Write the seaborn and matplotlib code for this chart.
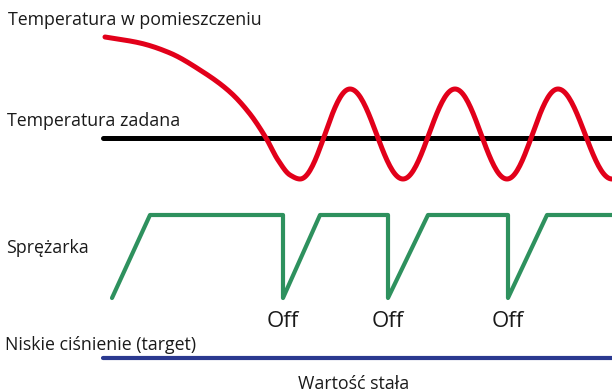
import numpy as np
import pandas as pd
import matplotlib
matplotlib.use("Agg")
import matplotlib.pyplot as plt
import seaborn as sns

# Canvas in pixel units (x to the right, y downward)
W, H = 612, 392

# Room temperature: initial cooling-down stretch, then oscillation extrema
room_fall_x = [105, 140, 170, 200, 230, 250, 266, 278, 290, 300]
room_fall_y = [37, 43, 53, 70, 92, 114, 138, 160, 175, 179]
room_osc_x = [300, 350, 403, 455, 507, 558, 612]
room_osc_y = [179, 89, 179, 89, 179, 89, 179]

# Set temperature (flat line)
setpoint_x = [103, 612]
setpoint_y = [138, 138]

# Compressor on/off sawtooth
comp_x = [112, 150, 283, 283, 320, 388, 388, 428, 508, 508, 547, 612]
comp_y = [298, 215, 215, 298, 215, 215, 298, 215, 215, 298, 215, 215]

# "Off" markers under each compressor drop
off_x = [283, 388, 508]
off_y = [327, 327, 327]
off_text = "Off"

# Low pressure target (constant)
pressure_x = [103, 612]
pressure_y = [358, 358]

# Row labels: (text, x, baseline y)
labels = ["Temperatura w pomieszczeniu", "Temperatura zadana", "Sprężarka",
          "Niskie ciśnienie (target)"]
labels_x = [8, 7, 6, 5]
labels_y = [25, 126, 253, 350]
footer = "Wartość stała"
footer_xy = (354, 389)

RED = "#e2001a"
GREEN = "#2e915e"
BLUE = "#2b3990"
TEXT = "#1a1a1a"


def monotone_curve(xs, ys, end_slope=0.0, n=20):
    """Monotone cubic Hermite path through the points, flat at the end."""
    x = np.asarray(xs, float)
    y = np.asarray(ys, float)
    h = np.diff(x)
    d = np.diff(y) / h
    m = np.zeros_like(x)
    m[0] = d[0]
    for i in range(1, len(x) - 1):
        if d[i - 1] * d[i] > 0:
            w1 = 2 * h[i] + h[i - 1]
            w2 = h[i] + 2 * h[i - 1]
            m[i] = (w1 + w2) / (w1 / d[i - 1] + w2 / d[i])
    m[-1] = end_slope
    px, py = [], []
    t = np.linspace(0, 1, n, endpoint=False)
    for i in range(len(x) - 1):
        h00 = 2 * t**3 - 3 * t**2 + 1
        h10 = t**3 - 2 * t**2 + t
        h01 = -2 * t**3 + 3 * t**2
        h11 = t**3 - t**2
        px.extend(x[i] + h[i] * t)
        py.extend(h00 * y[i] + h10 * h[i] * m[i] + h01 * y[i + 1] + h11 * h[i] * m[i + 1])
    px.append(x[-1])
    py.append(y[-1])
    return np.array(px), np.array(py)


def cosine_between(xs, ys, n=40):
    """Sinusoidal swing between consecutive extrema."""
    px, py = [], []
    t = np.linspace(0, 1, n, endpoint=False)
    for (x0, y0), (x1, y1) in zip(zip(xs[:-1], ys[:-1]), zip(xs[1:], ys[1:])):
        px.extend(x0 + (x1 - x0) * t)
        py.extend(y0 + (y1 - y0) * (1 - np.cos(np.pi * t)) / 2)
    px.append(xs[-1])
    py.append(ys[-1])
    return np.array(px), np.array(py)


fall_x, fall_y = monotone_curve(room_fall_x, room_fall_y)
osc_x, osc_y = cosine_between(room_osc_x, room_osc_y)
room = pd.DataFrame({
    "x": np.concatenate([fall_x[:-1], osc_x]),
    "y": np.concatenate([fall_y[:-1], osc_y]),
})

sns.set_style("white")
plt.rcParams["font.family"] = ["Open Sans", "DejaVu Sans"]

fig = plt.figure(figsize=(W / 100, H / 100), dpi=100)
ax = fig.add_axes([0, 0, 1, 1])

sns.lineplot(x=setpoint_x, y=setpoint_y, color="black", linewidth=3.6,
             sort=False, estimator=None, ax=ax)
sns.lineplot(data=room, x="x", y="y", color=RED, linewidth=3.6,
             sort=False, estimator=None, ax=ax)
sns.lineplot(x=comp_x, y=comp_y, color=GREEN, linewidth=3.0,
             sort=False, estimator=None, ax=ax)
sns.lineplot(x=pressure_x, y=pressure_y, color=BLUE, linewidth=3.0,
             sort=False, estimator=None, ax=ax)

for line in ax.lines:
    line.set_solid_capstyle("round")
    line.set_solid_joinstyle("round")

for txt, x, y in zip(labels, labels_x, labels_y):
    ax.text(x, y, txt, fontsize=12.8, color=TEXT, ha="left", va="baseline")
for x, y in zip(off_x, off_y):
    ax.text(x, y, off_text, fontsize=16, color=TEXT, ha="center", va="baseline")
ax.text(footer_xy[0], footer_xy[1], footer, fontsize=12.8, color=TEXT,
        ha="center", va="baseline")

ax.set_xlim(0, W)
ax.set_ylim(H, 0)
ax.axis("off")

fig.savefig("out.png", dpi=100, facecolor="white")
